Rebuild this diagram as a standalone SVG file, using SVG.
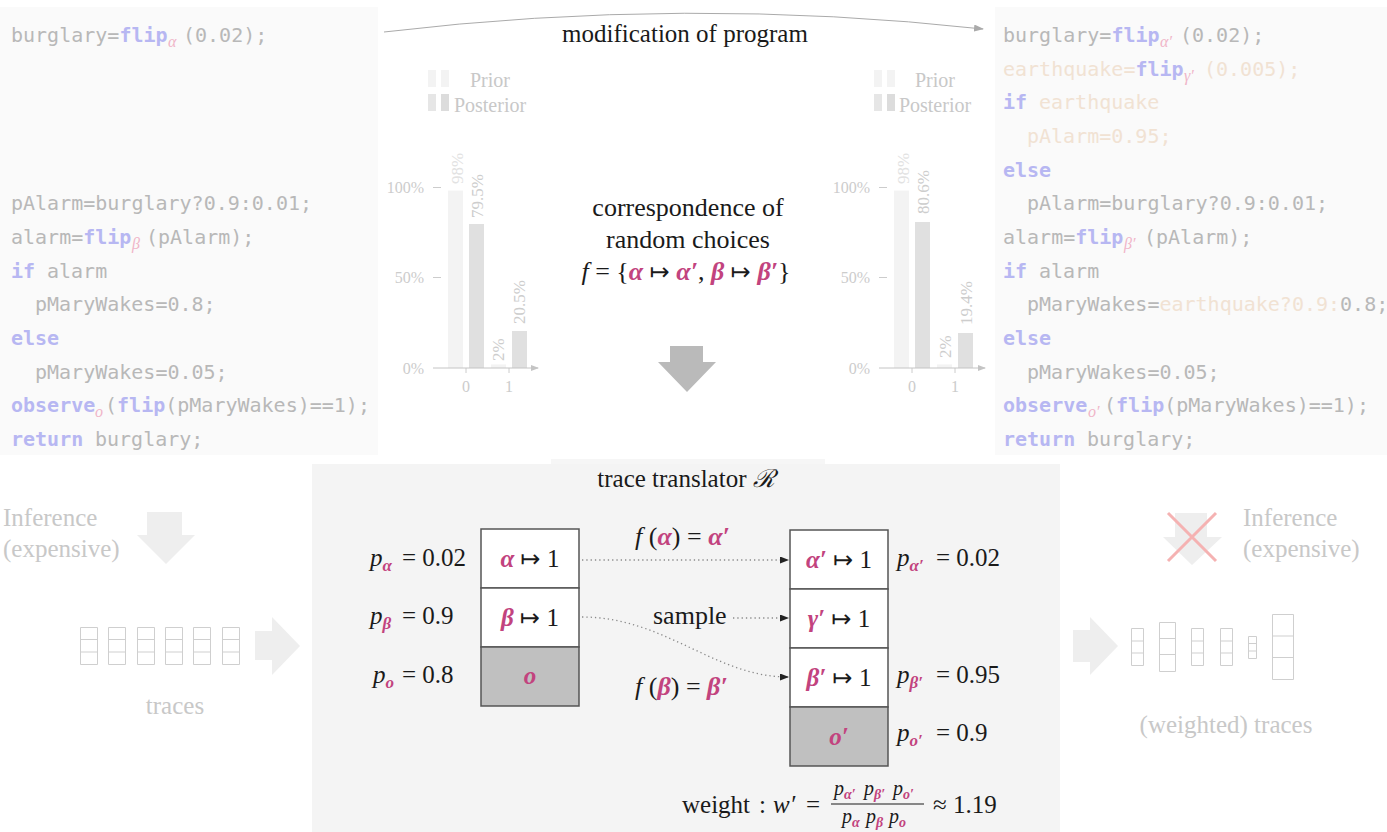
<svg xmlns="http://www.w3.org/2000/svg" width="1387" height="832" viewBox="0 0 1387 832">
<style>
.code{font-family:"DejaVu Sans Mono",monospace;font-size:20px;fill:#b8b8b8}
.kw{font-weight:bold;fill:#b7b7f2}
.sub{font-family:"Liberation Serif",serif;font-style:italic;font-size:16px;fill:#f0b5c8}
.eq{fill:#f1e2d3}
.ser{font-family:"Liberation Serif","DejaVu Serif",serif;font-size:25px;fill:#1a1a1a}
.lt{fill:#c8c8c8}
.leg{font-size:20px}
.big{font-size:26px}
.frac{font-size:20px}
.ax{font-family:"Liberation Serif",serif;font-size:16px;fill:#cccccc}
.bl{font-family:"Liberation Serif",serif;font-size:17px;fill:#cdcdcd}
.blp{fill:#e2e2e2}
.it{font-style:italic}
.g{font-style:italic;font-weight:bold;fill:#c2437e}
.s{font-size:17px}
.fs{font-size:14px}
.ar{font-family:"DejaVu Sans",sans-serif;font-size:24px;fill:#1a1a1a}
.box{stroke:#555;stroke-width:1.5}
.tr{fill:none;stroke:#cfcfcf;stroke-width:1}
.dot{fill:none;stroke:#8a8a8a;stroke-width:1.3;stroke-dasharray:1.3 3}
.fat{fill:#eeeeee}
.prior{fill:#f3f3f3}
.post{fill:#e0e0e0}
</style>
<defs>
<marker id="ah" markerWidth="9" markerHeight="7" refX="8" refY="3.5" orient="auto" markerUnits="userSpaceOnUse"><path d="M0,0 L9,3.5 L0,7 z" fill="#222"/></marker>
<marker id="ahg" markerWidth="10" markerHeight="7" refX="9" refY="3.5" orient="auto" markerUnits="userSpaceOnUse"><path d="M0,0 L10,3.5 L0,7 z" fill="#aaaaaa"/></marker>
<marker id="aha" markerWidth="8" markerHeight="6" refX="7" refY="3" orient="auto" markerUnits="userSpaceOnUse"><path d="M0,0 L8,3 L0,6 z" fill="#c4c4c4"/></marker>
</defs>
<rect width="1387" height="832" fill="#ffffff"/>
<rect x="0" y="7" width="378" height="448" fill="#fafafa"/>
<rect x="995" y="7" width="392" height="448" fill="#fafafa"/>
<rect x="551" y="459" width="274" height="6" fill="#f6f6f6"/>
<rect x="312" y="464" width="748" height="368" fill="#f4f4f4"/>

<g id="left-code" class="code">
<text y="42"><tspan x="11">burglary=</tspan><tspan class="kw">flip</tspan><tspan class="sub" x="168" y="47">α</tspan><tspan x="183" y="42">(0.02);</tspan></text>
<text x="11" y="210">pAlarm=burglary?0.9:0.01;</text>
<text y="244"><tspan x="11">alarm=</tspan><tspan class="kw">flip</tspan><tspan class="sub" x="132" y="249">β</tspan><tspan x="146" y="244">(pAlarm);</tspan></text>
<text y="278"><tspan x="11" class="kw">if</tspan><tspan x="47">alarm</tspan></text>
<text x="35" y="311">pMaryWakes=0.8;</text>
<text x="11" y="345" class="kw">else</text>
<text x="35" y="379">pMaryWakes=0.05;</text>
<text y="412"><tspan x="11" class="kw">observe</tspan><tspan class="sub" x="95" y="417">o</tspan><tspan x="105" y="412">(</tspan><tspan class="kw">flip</tspan><tspan>(pMaryWakes)==1);</tspan></text>
<text y="446"><tspan x="11" class="kw">return</tspan><tspan x="95">burglary;</tspan></text>
</g>

<g id="right-code" class="code">
<text y="42"><tspan x="1003">burglary=</tspan><tspan class="kw">flip</tspan><tspan class="sub" x="1160" y="47">α′</tspan><tspan x="1180" y="42">(0.02);</tspan></text>
<text y="76"><tspan x="1003" class="eq">earthquake=</tspan><tspan class="kw">flip</tspan><tspan class="sub" x="1184" y="81">γ′</tspan><tspan x="1204" y="76" class="eq">(0.005);</tspan></text>
<text y="109"><tspan x="1003" class="kw">if</tspan><tspan x="1039" class="eq">earthquake</tspan></text>
<text x="1027" y="143" class="eq">pAlarm=0.95;</text>
<text x="1003" y="177" class="kw">else</text>
<text x="1027" y="210">pAlarm=burglary?0.9:0.01;</text>
<text y="244"><tspan x="1003">alarm=</tspan><tspan class="kw">flip</tspan><tspan class="sub" x="1124" y="249">β′</tspan><tspan x="1144" y="244">(pAlarm);</tspan></text>
<text y="278"><tspan x="1003" class="kw">if</tspan><tspan x="1039">alarm</tspan></text>
<text y="311"><tspan x="1027">pMaryWakes=</tspan><tspan class="eq">earthquake?0.9:</tspan><tspan>0.8;</tspan></text>
<text x="1003" y="345" class="kw">else</text>
<text x="1027" y="379">pMaryWakes=0.05;</text>
<text y="412"><tspan x="1003" class="kw">observe</tspan><tspan class="sub" x="1088" y="417">o′</tspan><tspan x="1104" y="412">(</tspan><tspan class="kw">flip</tspan><tspan>(pMaryWakes)==1);</tspan></text>
<text y="446"><tspan x="1003" class="kw">return</tspan><tspan x="1087">burglary;</tspan></text>
</g>

<g id="chart-left">
<rect class="prior" x="428" y="70" width="8" height="17"/>
<rect class="prior" x="441" y="70" width="8" height="17"/>
<rect x="428" y="94" width="8" height="17" fill="#e6e6e6"/>
<rect x="441" y="94" width="8" height="17" fill="#dcdcdc"/>
<text class="ser lt leg" x="490" y="87" text-anchor="middle">Prior</text>
<text class="ser lt leg" x="490" y="112" text-anchor="middle">Posterior</text>
<text class="ax" x="424" y="193" text-anchor="end">100%</text>
<text class="ax" x="424" y="283" text-anchor="end">50%</text>
<text class="ax" x="424" y="374" text-anchor="end">0%</text>
<path d="M433,187.5 H441 M433,277.5 H441 M466,368 V373 M509,368 V373" stroke="#cccccc" stroke-width="1"/>
<rect class="prior" x="448" y="190.6" width="15" height="177.4"/>
<rect class="post" x="469" y="224" width="15" height="144"/>
<rect class="prior" x="491" y="364.4" width="15" height="3.6"/>
<rect class="post" x="512" y="331" width="15" height="37"/>
<path d="M433,368 H538" stroke="#c4c4c4" stroke-width="1" marker-end="url(#aha)"/>
<text class="ax" x="466" y="392" text-anchor="middle">0</text>
<text class="ax" x="509" y="392" text-anchor="middle">1</text>
<text class="bl blp" transform="translate(463,184) rotate(-90)">98%</text>
<text class="bl" transform="translate(483,218) rotate(-90)">79.5%</text>
<text class="bl" transform="translate(504,361) rotate(-90)">2%</text>
<text class="bl" transform="translate(525,324) rotate(-90)">20.5%</text>
</g>

<g id="chart-right">
<rect class="prior" x="874" y="70" width="8" height="17"/>
<rect class="prior" x="887" y="70" width="8" height="17"/>
<rect x="874" y="94" width="8" height="17" fill="#e6e6e6"/>
<rect x="887" y="94" width="8" height="17" fill="#dcdcdc"/>
<text class="ser lt leg" x="935" y="87" text-anchor="middle">Prior</text>
<text class="ser lt leg" x="935" y="112" text-anchor="middle">Posterior</text>
<text class="ax" x="870" y="193" text-anchor="end">100%</text>
<text class="ax" x="870" y="283" text-anchor="end">50%</text>
<text class="ax" x="870" y="374" text-anchor="end">0%</text>
<path d="M879,187.5 H887 M879,277.5 H887 M912,368 V373 M955,368 V373" stroke="#cccccc" stroke-width="1"/>
<rect class="prior" x="894" y="190.6" width="15" height="177.4"/>
<rect class="post" x="915" y="222" width="15" height="146"/>
<rect class="prior" x="937" y="364.4" width="15" height="3.6"/>
<rect class="post" x="958" y="333" width="15" height="35"/>
<path d="M879,368 H985" stroke="#c4c4c4" stroke-width="1" marker-end="url(#aha)"/>
<text class="ax" x="912" y="392" text-anchor="middle">0</text>
<text class="ax" x="955" y="392" text-anchor="middle">1</text>
<text class="bl blp" transform="translate(909,184) rotate(-90)">98%</text>
<text class="bl" transform="translate(929,214) rotate(-90)">80.6%</text>
<text class="bl" transform="translate(951,358) rotate(-90)">2%</text>
<text class="bl" transform="translate(972,325) rotate(-90)">19.4%</text>
</g>

<g id="modification">
<path d="M384,32 Q685,-4 983,29" fill="none" stroke="#aaaaaa" stroke-width="1" marker-end="url(#ahg)"/>
<text class="ser" x="685" y="42" text-anchor="middle">modification of program</text>
</g>

<g id="correspondence">
<text class="ser big" x="688" y="216" text-anchor="middle">correspondence of</text>
<text class="ser big" x="688" y="248" text-anchor="middle">random choices</text>
<text class="ser big" x="686" y="280" text-anchor="middle"><tspan class="it">f</tspan> = {<tspan class="g">α</tspan> <tspan class="ar">↦</tspan> <tspan class="g">α′</tspan>, <tspan class="g">β</tspan> <tspan class="ar">↦</tspan> <tspan class="g">β′</tspan>}</text>
<polygon points="670,346 703,346 703,362 716,362 687,392 658,362 670,362" fill="#bababa"/>
</g>

<g id="inference-left">
<text class="ser lt" x="3" y="526">Inference</text>
<text class="ser lt" x="3" y="557">(expensive)</text>
<polygon class="fat" points="147,512 182,512 182,535 195,535 166,564 137,535 147,535"/>
</g>

<g id="traces-left">
<path class="tr" d="M80.5,627.5 h17 v37 h-17 z M80.5,639.5 h17 M80.5,652 h17"/>
<path class="tr" d="M108.5,627.5 h17 v37 h-17 z M108.5,639.5 h17 M108.5,652 h17"/>
<path class="tr" d="M137.5,627.5 h17 v37 h-17 z M137.5,639.5 h17 M137.5,652 h17"/>
<path class="tr" d="M165.5,627.5 h17 v37 h-17 z M165.5,639.5 h17 M165.5,652 h17"/>
<path class="tr" d="M193.5,627.5 h17 v37 h-17 z M193.5,639.5 h17 M193.5,652 h17"/>
<path class="tr" d="M222.5,627.5 h17 v37 h-17 z M222.5,639.5 h17 M222.5,652 h17"/>
<text class="ser lt" x="175" y="714" text-anchor="middle">traces</text>
<polygon class="fat" points="255,631 272,631 272,617 300,646 272,675 272,660 255,660"/>
</g>

<g id="trace-translator">
<text class="ser" x="686" y="487" text-anchor="middle">trace translator <tspan font-family="DejaVu Serif,serif" font-style="italic">ℛ</tspan></text>
</g>

<g id="trace-old">
<rect class="box" x="481" y="529" width="98" height="59" fill="#ffffff"/>
<rect class="box" x="481" y="588" width="98" height="59" fill="#ffffff"/>
<rect class="box" x="481" y="647" width="98" height="59" fill="#c0c0c0"/>
<text class="ser" x="530" y="567" text-anchor="middle"><tspan class="g">α</tspan> <tspan class="ar">↦</tspan> 1</text>
<text class="ser" x="530" y="626" text-anchor="middle"><tspan class="g">β</tspan> <tspan class="ar">↦</tspan> 1</text>
<text class="ser" x="530" y="684" text-anchor="middle"><tspan class="g">o</tspan></text>
<text class="ser" y="566"><tspan x="370" class="it">p</tspan><tspan class="g s" dy="5">α</tspan><tspan x="402" dy="-5">= 0.02</tspan></text>
<text class="ser" y="624"><tspan x="370" class="it">p</tspan><tspan class="g s" dy="5">β</tspan><tspan x="402" dy="-5">= 0.9</tspan></text>
<text class="ser" y="683"><tspan x="373" class="it">p</tspan><tspan class="g s" dy="5">o</tspan><tspan x="402" dy="-5">= 0.8</tspan></text>
</g>

<g id="trace-new">
<rect class="box" x="790" y="530" width="98" height="59" fill="#ffffff"/>
<rect class="box" x="790" y="589" width="98" height="59" fill="#ffffff"/>
<rect class="box" x="790" y="648" width="98" height="59" fill="#ffffff"/>
<rect class="box" x="790" y="707" width="98" height="59" fill="#c0c0c0"/>
<text class="ser" x="839" y="568" text-anchor="middle"><tspan class="g">α′</tspan> <tspan class="ar">↦</tspan> 1</text>
<text class="ser" x="839" y="627" text-anchor="middle"><tspan class="g">γ′</tspan> <tspan class="ar">↦</tspan> 1</text>
<text class="ser" x="839" y="686" text-anchor="middle"><tspan class="g">β′</tspan> <tspan class="ar">↦</tspan> 1</text>
<text class="ser" x="839" y="745" text-anchor="middle"><tspan class="g">o′</tspan></text>
<text class="ser" y="566"><tspan x="897" class="it">p</tspan><tspan class="g s" dy="5">α′</tspan><tspan x="936" dy="-5">= 0.02</tspan></text>
<text class="ser" y="683"><tspan x="897" class="it">p</tspan><tspan class="g s" dy="5">β′</tspan><tspan x="936" dy="-5">= 0.95</tspan></text>
<text class="ser" y="741"><tspan x="897" class="it">p</tspan><tspan class="g s" dy="5">o′</tspan><tspan x="936" dy="-5">= 0.9</tspan></text>
</g>

<g id="connectors">
<path class="dot" d="M582,560 H788" marker-end="url(#ah)"/>
<path class="dot" d="M733,618 H788" marker-end="url(#ah)"/>
<path class="dot" d="M582,617 C665,617 715,677 788,677" marker-end="url(#ah)"/>
</g>
<g id="connector-labels">
<text class="ser big" x="635" y="545"><tspan class="it">f</tspan> (<tspan class="g">α</tspan>) = <tspan class="g">α′</tspan></text>
<text class="ser big" x="653" y="624">sample</text>
<text class="ser big" x="635" y="695"><tspan class="it">f</tspan> (<tspan class="g">β</tspan>) = <tspan class="g">β′</tspan></text>
</g>

<g id="weight">
<text class="ser" x="682" y="813">weight</text>
<text class="ser" x="759" y="813">:</text>
<text class="ser it" x="773" y="813">w′</text>
<text class="ser" x="806" y="813">=</text>
<text class="ser frac" y="795"><tspan x="834" class="it">p</tspan><tspan class="g fs" dy="4">α′</tspan><tspan x="864" dy="-4" class="it">p</tspan><tspan class="g fs" dy="4">β′</tspan><tspan x="893" dy="-4" class="it">p</tspan><tspan class="g fs" dy="4">o′</tspan></text>
<line x1="831" y1="804" x2="924" y2="804" stroke="#1a1a1a" stroke-width="1.2"/>
<text class="ser frac" y="823"><tspan x="842" class="it">p</tspan><tspan class="g fs" dy="4">α</tspan><tspan x="866" dy="-4" class="it">p</tspan><tspan class="g fs" dy="4">β</tspan><tspan x="889" dy="-4" class="it">p</tspan><tspan class="g fs" dy="4">o</tspan></text>
<text class="ser" x="933" y="813">≈ 1.19</text>
</g>

<g id="inference-right">
<polygon class="fat" points="1175,513 1207,513 1207,537 1222,537 1192,565 1163,537 1175,537"/>
<path d="M1168,513 L1216,561 M1216,513 L1168,561" stroke="#f5b2b2" stroke-width="3"/>
<text class="ser lt" x="1243" y="526">Inference</text>
<text class="ser lt" x="1243" y="557">(expensive)</text>
</g>

<g id="traces-right">
<polygon class="fat" points="1073,630 1090,630 1090,617 1118,646 1090,675 1090,662 1073,662"/>
<path class="tr" d="M1131.5,628.5 h12 v37 h-12 z M1131.5,641 h12 M1131.5,653 h12"/>
<path class="tr" d="M1159.5,622.5 h16 v49 h-16 z M1159.5,638.5 h16 M1159.5,654.5 h16"/>
<path class="tr" d="M1191.5,628.5 h12 v37 h-12 z M1191.5,641 h12 M1191.5,653 h12"/>
<path class="tr" d="M1220.5,628.5 h12 v37 h-12 z M1220.5,641 h12 M1220.5,653 h12"/>
<path class="tr" d="M1248.5,636.5 h8 v22 h-8 z M1248.5,643.5 h8 M1248.5,651 h8"/>
<path class="tr" d="M1272.5,614.5 h21 v65 h-21 z M1272.5,636 h21 M1272.5,657.5 h21"/>
<text class="ser lt" x="1226" y="733" text-anchor="middle">(weighted) traces</text>
</g>
</svg>
